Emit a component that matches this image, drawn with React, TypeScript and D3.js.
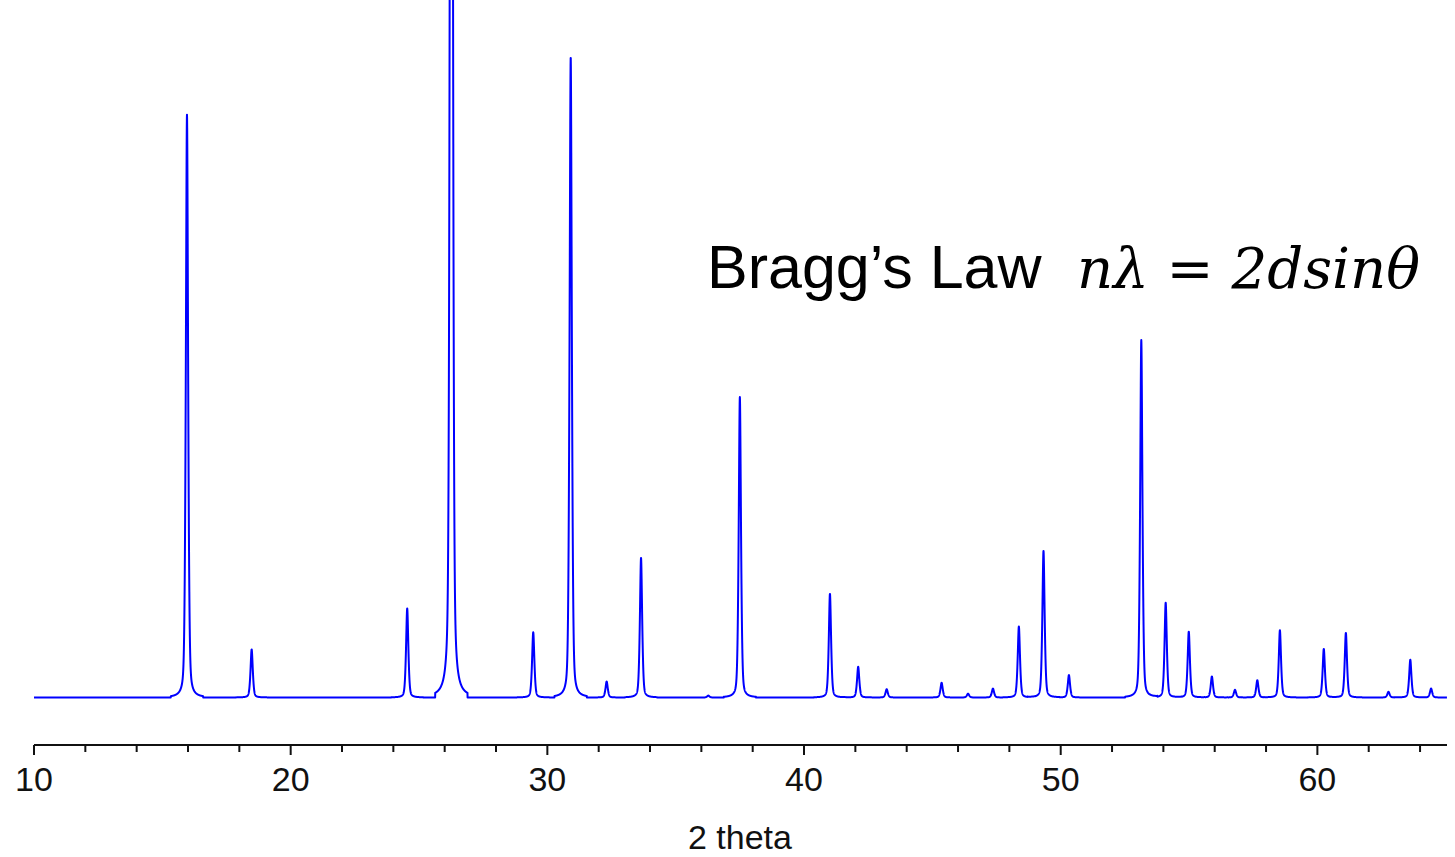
import { useEffect, useRef } from 'react';
import * as d3 from 'd3';

// peak list (2θ in degrees, intensity in arbitrary units)
const peakPos = [
  15.96, 18.48, 24.54, 26.26, 29.45, 30.91, 32.31, 33.65, 36.27, 37.5,
  41.01, 42.11, 43.22, 45.36, 46.39, 47.36, 48.37, 49.33, 50.32, 53.14,
  54.09, 54.99, 55.89, 56.79, 57.66, 58.54, 60.25, 61.11, 62.77, 63.62, 64.43,
];
const peakInt = [
  910, 75, 139, 3100, 102, 1000, 25, 218, 3, 469,
  162, 48, 13, 23, 6, 14, 111, 229, 35, 558,
  148, 103, 33, 12, 27, 105, 76, 101, 9, 59, 14,
];
const xTicks = [10, 20, 30, 40, 50, 60];
const xLabel = '2 theta';

const W = 1455;
const H = 857;

// pseudo-Voigt shape, cut off at a fixed window like the instrument software
const ETA = 0.5;
const HW_L = 0.043;
const SIG_G = 0.05;
const WINDOW = 0.63;

function profileAt(t: number) {
  let s = 0;
  for (let i = 0; i < peakPos.length; i++) {
    const d = t - peakPos[i];
    if (Math.abs(d) > WINDOW) continue;
    const l = 1 / (1 + (d / HW_L) ** 2);
    const g = Math.exp(-(d * d) / (2 * SIG_G * SIG_G));
    s += peakInt[i] * (ETA * l + (1 - ETA) * g);
  }
  return s;
}

export default function App() {
  const svgRef = useRef<SVGSVGElement>(null);

  useEffect(() => {
    const svg = d3.select(svgRef.current);
    svg.selectAll('*').remove();

    const x = d3.scaleLinear().domain([10, 65.05]).range([34, 1447]);
    const y = d3.scaleLinear().domain([0, 1000]).range([697.5, 57]);

    // sample the pattern on the x grid
    const step = 0.004;
    const pts: [number, number][] = [];
    const [x0, x1] = x.domain();
    for (let t = x0; t <= x1 + 1e-9; t += step) pts.push([t, profileAt(t)]);

    const line = d3.line<[number, number]>()
      .x((d) => x(d[0]))
      .y((d) => y(d[1]));

    svg.append('path')
      .datum(pts)
      .attr('fill', 'none')
      .attr('stroke', '#0000ff')
      .attr('stroke-width', 2)
      .attr('stroke-linejoin', 'round')
      .attr('d', line);

    // x axis
    const axisY = 745;
    const g = svg.append('g').attr('transform', `translate(0,${axisY})`);
    g.append('line')
      .attr('x1', x(10)).attr('x2', x(x1))
      .attr('stroke', '#111').attr('stroke-width', 2);

    const minor = d3.range(10, 65, 2).filter((v) => !xTicks.includes(v));
    g.selectAll('line.minor')
      .data(minor)
      .join('line')
      .attr('class', 'minor')
      .attr('x1', (d) => x(d)).attr('x2', (d) => x(d))
      .attr('y1', 0).attr('y2', 7)
      .attr('stroke', '#111').attr('stroke-width', 2);

    g.selectAll('line.major')
      .data(xTicks)
      .join('line')
      .attr('class', 'major')
      .attr('x1', (d) => x(d)).attr('x2', (d) => x(d))
      .attr('y1', 0).attr('y2', 10)
      .attr('stroke', '#111').attr('stroke-width', 2);

    g.selectAll('text.tick')
      .data(xTicks)
      .join('text')
      .attr('class', 'tick')
      .attr('x', (d) => x(d))
      .attr('y', 46)
      .attr('text-anchor', 'middle')
      .attr('font-family', '"Liberation Sans", Arial, sans-serif')
      .attr('font-size', 34)
      .attr('fill', '#111')
      .text((d) => d);

    svg.append('text')
      .attr('x', 740)
      .attr('y', 849)
      .attr('text-anchor', 'middle')
      .attr('font-family', '"Liberation Sans", Arial, sans-serif')
      .attr('font-size', 34)
      .attr('fill', '#111')
      .text(xLabel);

    // Bragg's law annotation
    const note = svg.append('text')
      .attr('y', 288)
      .attr('fill', '#000');
    note.append('tspan')
      .attr('x', 707)
      .attr('font-family', '"Liberation Sans", Arial, sans-serif')
      .attr('font-size', 61)
      .text('Bragg’s Law');
    note.append('tspan')
      .attr('x', 1077)
      .attr('font-family', '"DejaVu Serif", "Liberation Serif", serif')
      .attr('font-style', 'italic')
      .attr('font-size', 56)
      .attr('textLength', 343)
      .attr('lengthAdjust', 'spacingAndGlyphs')
      .text('nλ = 2dsinθ');
  }, []);

  return (
    <>
      <style>{`body{margin:0}`}</style>
      <svg ref={svgRef} width={W} height={H} style={{ display: 'block', background: '#fff' }} />
    </>
  );
}
